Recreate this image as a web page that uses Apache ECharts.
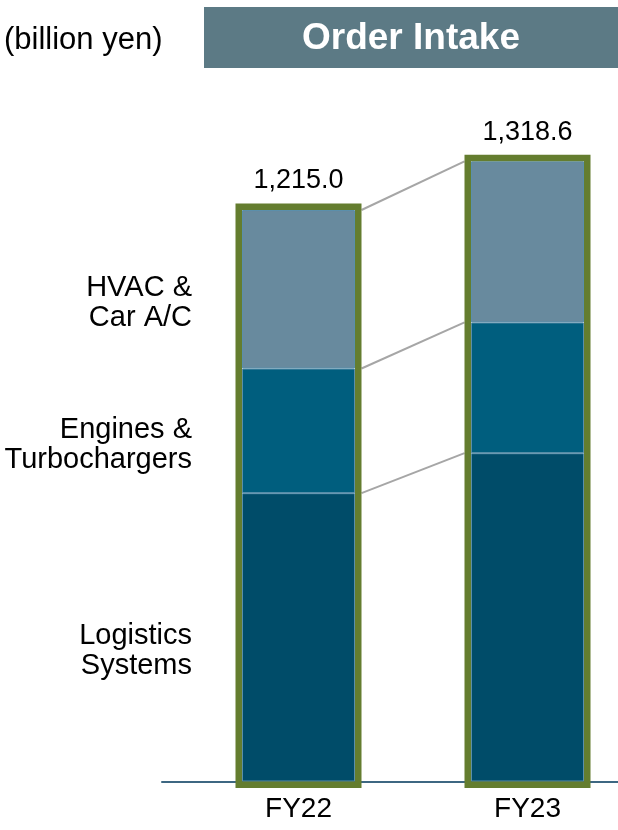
<!DOCTYPE html>
<html>
<head>
<meta charset="utf-8">
<script src="https://cdn.jsdelivr.net/npm/echarts@6/dist/echarts.min.js"></script>
<style>
  html, body { margin: 0; padding: 0; background: #fff; }
  #chart { width: 618px; height: 830px; }
</style>
</head>
<body>
<div id="chart"></div>
<script>
// data (billion yen)
const years = ['FY22', 'FY23']
const logistics = [613, 698]
const engines = [265, 278]
const hvac = [337, 342.6]
const totals = [1215.0, 1318.6]
const segmentNames = ['Logistics\nSystems', 'Engines &\nTurbochargers', 'HVAC &\nCar A/C']

const FONT = "'Liberation Sans', Arial, Helvetica, sans-serif"
const BAR_W = 113
const FRAME_W = 6.5

const chart = echarts.init(document.getElementById('chart'))

// names of the segments are written left of the FY22 bar
function withSideLabel(values, name) {
  return values.map((v, i) => i === 0 ? {
    value: v,
    label: {
      show: true,
      position: 'left',
      distance: 50,
      offset: [0, 14],
      formatter: name,
      color: '#000',
      fontFamily: FONT,
      fontSize: 29,
      lineHeight: 30,
      align: 'right'
    }
  } : v)
}

function segment(name, values, color) {
  return {
    name: name,
    type: 'bar',
    stack: 'total',
    barWidth: BAR_W,
    xAxisIndex: 0,
    yAxisIndex: 0,
    itemStyle: { color: color, borderColor: '#5a8fab', borderWidth: 1 },
    data: withSideLabel(values, name),
    animation: false
  }
}

// connector lines between the two bars, at each boundary
const boundaries = [
  [0, logistics[0], logistics[1]],
  [0, logistics[0] + engines[0], logistics[1] + engines[1]],
  [0, totals[0], totals[1]]
]

chart.setOption({
  animation: false,
  grid: [
    { left: 184, width: 458, top: 123, bottom: 48.5, outerBoundsMode: 'none' },
    { left: 162, right: 0, top: 123, bottom: 48.5, outerBoundsMode: 'none' }
  ],
  xAxis: [{
    type: 'category',
    gridIndex: 0,
    data: years,
    axisLine: { show: false },
    axisTick: { show: false },
    axisLabel: { color: '#000', fontFamily: FONT, fontSize: 28, margin: 14 }
  }, {
    type: 'category',
    gridIndex: 1,
    data: [],
    axisLine: { show: true, lineStyle: { color: '#3d6782', width: 2 } },
    axisTick: { show: false },
    axisLabel: { show: false }
  }],
  yAxis: [{
    type: 'value',
    gridIndex: 0,
    min: 0,
    max: 1400,
    show: false
  }, {
    type: 'value',
    gridIndex: 1,
    min: 0,
    max: 1400,
    show: false
  }],
  graphic: [
    { type: 'rect', left: 204, top: 7, shape: { width: 414, height: 61 }, style: { fill: '#5c7a85' } },
    {
      type: 'text', x: 411, y: 39,
      style: { text: 'Order Intake', fill: '#fff', fontFamily: FONT, fontWeight: 'bold', fontSize: 37, align: 'center', verticalAlign: 'middle' }
    },
    {
      type: 'text', x: 4, y: 40,
      style: { text: '(billion yen)', fill: '#000', fontFamily: FONT, fontSize: 31, align: 'left', verticalAlign: 'middle' }
    }
  ],
  series: [
    segment(segmentNames[0], logistics, '#004c69'),
    segment(segmentNames[1], engines, '#005e7e'),
    segment(segmentNames[2], hvac, '#688a9e'),
    {
      name: 'connectors',
      type: 'custom',
      xAxisIndex: 0,
      yAxisIndex: 0,
      encode: { x: 0, y: 1 },
      data: boundaries,
      z: 1,
      renderItem(params, api) {
        const a = api.coord([0, api.value(1)])
        const b = api.coord([1, api.value(2)])
        const off = BAR_W / 2 + FRAME_W
        return {
          type: 'line',
          shape: { x1: a[0] + off, y1: a[1], x2: b[0] - off, y2: b[1] },
          style: { stroke: '#a6a6a6', lineWidth: 2 }
        }
      }
    },
    {
      name: 'total',
      type: 'custom',
      xAxisIndex: 0,
      yAxisIndex: 0,
      encode: { x: 0, y: 1 },
      data: totals.map((t, i) => [i, t]),
      z: 3,
      renderItem(params, api) {
        const top = api.coord([api.value(0), api.value(1)])
        const base = api.coord([api.value(0), 0])
        const half = BAR_W / 2 + FRAME_W / 2
        return {
          type: 'group',
          children: [{
            type: 'rect',
            shape: { x: top[0] - half, y: top[1] - FRAME_W / 2, width: half * 2, height: base[1] - top[1] + FRAME_W },
            style: { fill: 'none', stroke: '#647d2f', lineWidth: FRAME_W }
          }, {
            type: 'text',
            x: top[0],
            y: top[1] - 29,
            style: {
              text: api.value(1).toLocaleString('en-US', { minimumFractionDigits: 1, maximumFractionDigits: 1 }),
              fill: '#000',
              fontFamily: FONT,
              fontSize: 27,
              align: 'center',
              verticalAlign: 'middle'
            }
          }]
        }
      }
    }
  ]
})
</script>
</body>
</html>
